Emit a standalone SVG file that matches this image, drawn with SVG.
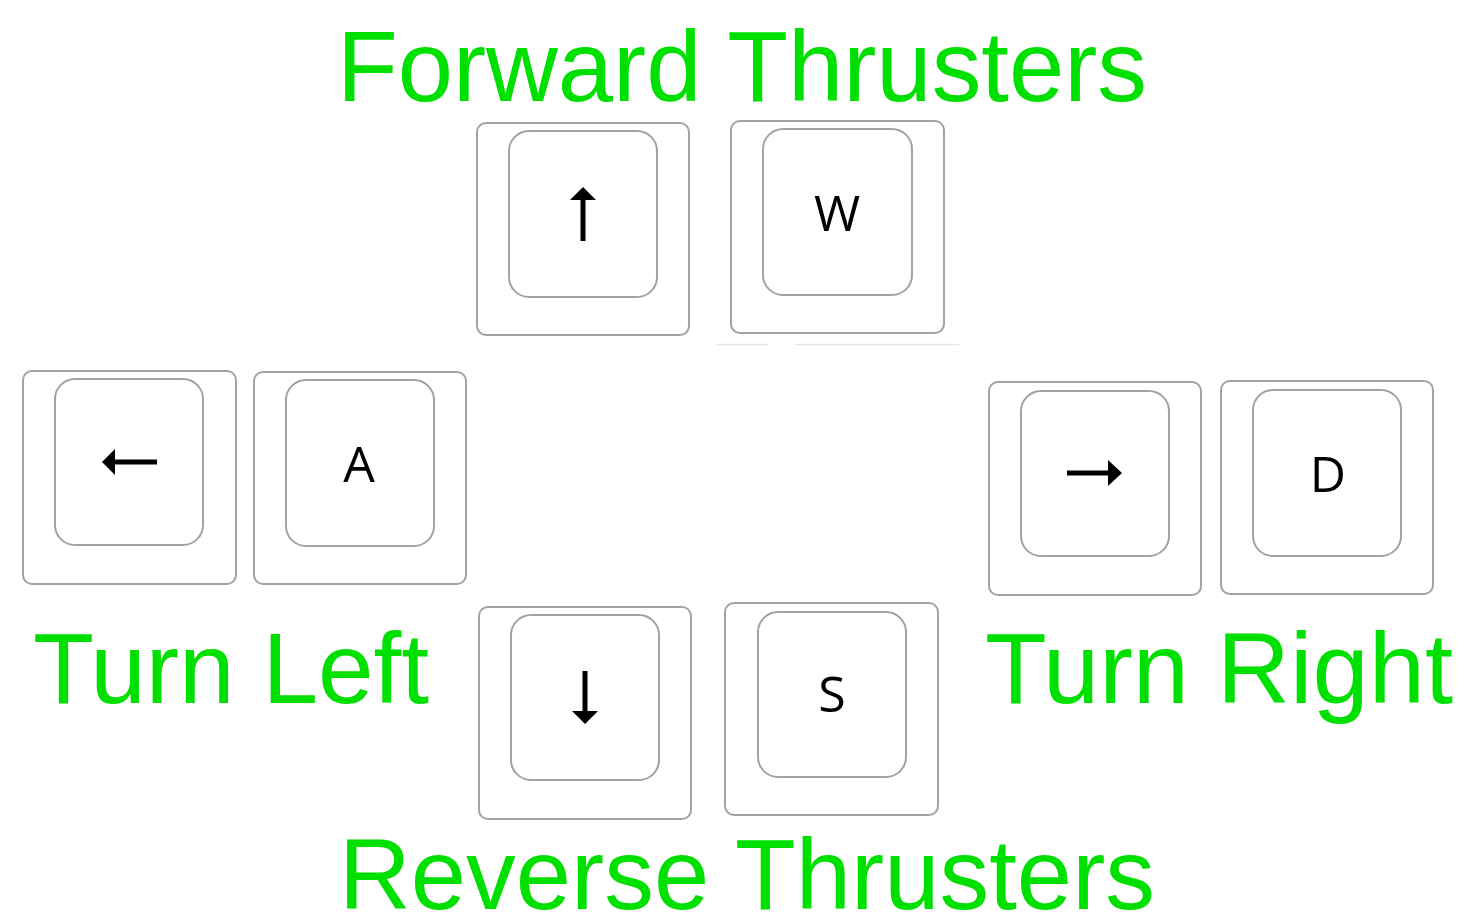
<svg xmlns="http://www.w3.org/2000/svg" width="1467" height="922" viewBox="0 0 1467 922">
<style>
.outer{fill:#fff;stroke:#a3a29e;stroke-width:2}
.inner{fill:#fff;stroke:#a3a29e;stroke-width:2}
.key{font-family:"Open Sans","DejaVu Sans",sans-serif;font-size:50px;fill:#000;text-anchor:middle}
.lbl{font-family:"Liberation Sans",Arial,sans-serif;font-size:100px;fill:#00e000}
.arr{fill:#000}
.faint{stroke:#e6e6e6;stroke-width:1.5}
</style>
<rect width="1467" height="922" fill="#fff"/>
<g id="label-forward"><text class="lbl" x="337" y="101" textLength="810" lengthAdjust="spacingAndGlyphs">Forward Thrusters</text></g>
<g id="label-left"><text class="lbl" x="33" y="703" textLength="396" lengthAdjust="spacingAndGlyphs">Turn Left</text></g>
<g id="label-right"><text class="lbl" x="985" y="703" textLength="468" lengthAdjust="spacingAndGlyphs">Turn Right</text></g>
<g id="label-reverse"><text class="lbl" x="339" y="909" textLength="816" lengthAdjust="spacingAndGlyphs">Reverse Thrusters</text></g>

<g id="key-up">
<rect class="outer" x="477" y="123" width="212" height="212" rx="9"/>
<rect class="inner" x="509" y="131" width="148" height="166" rx="20"/>
<rect class="arr" x="580.5" y="199" width="5" height="42"/>
<polygon class="arr" points="583,187 596,200 570,200"/>
</g>
<g id="key-w">
<rect class="outer" x="731" y="121" width="213" height="212" rx="9"/>
<rect class="inner" x="763" y="129" width="149" height="166" rx="20"/>
<text class="key" x="837" y="231">W</text>
</g>
<g id="faint-lines">
<line class="faint" x1="717" y1="344.5" x2="768" y2="344.5"/>
<line class="faint" x1="795" y1="344.5" x2="959" y2="344.5"/>
</g>
<g id="key-left">
<rect class="outer" x="23" y="371" width="213" height="213" rx="9"/>
<rect class="inner" x="55" y="379" width="148" height="166" rx="20"/>
<rect class="arr" x="114" y="459.5" width="43" height="5"/>
<polygon class="arr" points="102,462 115,449 115,475"/>
</g>
<g id="key-a">
<rect class="outer" x="254" y="372" width="212" height="212" rx="9"/>
<rect class="inner" x="286" y="380" width="148" height="166" rx="20"/>
<text class="key" x="359" y="482">A</text>
</g>
<g id="key-right">
<rect class="outer" x="989" y="382" width="212" height="213" rx="9"/>
<rect class="inner" x="1021" y="391" width="148" height="165" rx="20"/>
<rect class="arr" x="1067" y="470.5" width="43" height="5"/>
<polygon class="arr" points="1122,473 1108,460 1108,486"/>
</g>
<g id="key-d">
<rect class="outer" x="1221" y="381" width="212" height="213" rx="9"/>
<rect class="inner" x="1253" y="390" width="148" height="166" rx="20"/>
<text class="key" x="1328" y="492">D</text>
</g>
<g id="key-down">
<rect class="outer" x="479" y="607" width="212" height="212" rx="9"/>
<rect class="inner" x="511" y="615" width="148" height="165" rx="20"/>
<rect class="arr" x="582.5" y="671" width="5" height="43"/>
<polygon class="arr" points="585,724 598,711 572,711"/>
</g>
<g id="key-s">
<rect class="outer" x="725" y="603" width="213" height="212" rx="9"/>
<rect class="inner" x="758" y="612" width="148" height="165" rx="20"/>
<text class="key" x="832" y="712">S</text>
</g>
</svg>
